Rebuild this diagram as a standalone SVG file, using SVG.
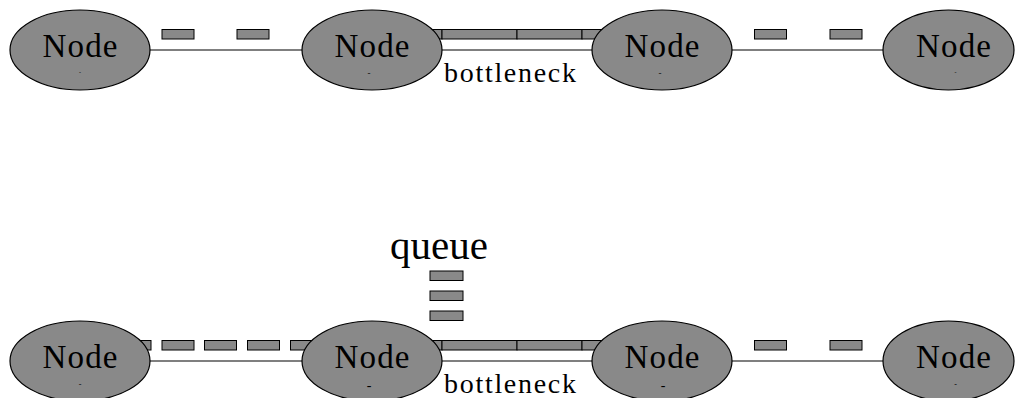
<svg xmlns="http://www.w3.org/2000/svg" width="1015" height="398" viewBox="0 0 1015 398">
<style>
.node{fill:#898989;stroke:#000;stroke-width:1.2}
.pkt{fill:#898989;stroke:#000;stroke-width:1}
.link{stroke:#000;stroke-width:1.2;fill:none}
.lbl{font-family:"Liberation Serif","Times New Roman",serif;font-size:33px;fill:#000;text-anchor:middle}
.sub{font-family:"Liberation Serif","Times New Roman",serif;fill:#000;text-anchor:middle}
.txt{font-family:"Liberation Serif","Times New Roman",serif;fill:#000;text-anchor:middle}
</style>
<rect width="1015" height="398" fill="#fff"/>
<g id="connectors">
  <line class="link" x1="150" y1="50" x2="302" y2="50"/>
  <line class="link" x1="442" y1="50" x2="592" y2="50"/>
  <line class="link" x1="732" y1="50" x2="883" y2="50"/>
  <line class="link" x1="150" y1="361" x2="302" y2="361"/>
  <line class="link" x1="442" y1="361" x2="592" y2="361"/>
  <line class="link" x1="732" y1="361" x2="883" y2="361"/>
</g>
<g id="packets">
  <rect class="pkt" x="162" y="29.5" width="32" height="9.5"/>
  <rect class="pkt" x="237" y="29.5" width="32" height="9.5"/>
  <rect class="pkt" x="754.5" y="29.5" width="32" height="9.5"/>
  <rect class="pkt" x="830" y="29.5" width="32" height="9.5"/>
  <rect class="pkt" x="367" y="29.5" width="75" height="9.5"/>
  <rect class="pkt" x="442" y="29.5" width="75" height="9.5"/>
  <rect class="pkt" x="517" y="29.5" width="65" height="9.5"/>
  <rect class="pkt" x="582" y="29.5" width="75" height="9.5"/>
  <rect class="pkt" x="119" y="340.5" width="32" height="9.5"/>
  <rect class="pkt" x="162" y="340.5" width="32" height="9.5"/>
  <rect class="pkt" x="204.5" y="340.5" width="32" height="9.5"/>
  <rect class="pkt" x="247.5" y="340.5" width="32" height="9.5"/>
  <rect class="pkt" x="290.5" y="340.5" width="32" height="9.5"/>
  <rect class="pkt" x="754.5" y="340.5" width="32" height="9.5"/>
  <rect class="pkt" x="830" y="340.5" width="32" height="9.5"/>
  <rect class="pkt" x="367" y="340.5" width="75" height="9.5"/>
  <rect class="pkt" x="442" y="340.5" width="75" height="9.5"/>
  <rect class="pkt" x="517" y="340.5" width="65" height="9.5"/>
  <rect class="pkt" x="582" y="340.5" width="75" height="9.5"/>
</g>
<g id="queue">
  <rect class="pkt" x="430" y="271" width="33" height="9.5"/>
  <rect class="pkt" x="430" y="291" width="33" height="9.5"/>
  <rect class="pkt" x="430" y="311" width="33" height="9.5"/>
  <text class="txt" x="439" y="259" font-size="41">queue</text>
</g>
<g id="n1a"><ellipse class="node" cx="80" cy="50" rx="70" ry="40"/><text class="lbl" x="80" y="57" textLength="75" lengthAdjust="spacing">Node</text><text class="sub" x="80" y="74" font-size="6">-</text></g>
<g id="n2a"><ellipse class="node" cx="372" cy="50" rx="70" ry="40"/><text class="lbl" x="372" y="57" textLength="75" lengthAdjust="spacing">Node</text><text class="sub" x="369" y="76" font-size="9">-</text></g>
<g id="n3a"><ellipse class="node" cx="662" cy="50" rx="70" ry="40"/><text class="lbl" x="662" y="57" textLength="75" lengthAdjust="spacing">Node</text><text class="sub" x="660" y="76" font-size="9">-</text></g>
<g id="n4a"><ellipse class="node" cx="948.5" cy="50" rx="65.5" ry="40"/><text class="lbl" x="953.5" y="57" textLength="75" lengthAdjust="spacing">Node</text><text class="sub" x="955.5" y="74" font-size="6">-</text></g>
<g id="n1b"><ellipse class="node" cx="80" cy="361" rx="70" ry="40"/><text class="lbl" x="80" y="368" textLength="75" lengthAdjust="spacing">Node</text><text class="sub" x="80" y="387" font-size="8">-</text></g>
<g id="n2b"><ellipse class="node" cx="372" cy="361" rx="70" ry="40"/><text class="lbl" x="372" y="368" textLength="75" lengthAdjust="spacing">Node</text><text class="sub" x="369" y="390" font-size="14">-</text></g>
<g id="n3b"><ellipse class="node" cx="662" cy="361" rx="70" ry="40"/><text class="lbl" x="662" y="368" textLength="75" lengthAdjust="spacing">Node</text><text class="sub" x="663" y="390" font-size="14">-</text></g>
<g id="n4b"><ellipse class="node" cx="948.5" cy="361" rx="65.5" ry="40"/><text class="lbl" x="953.5" y="368" textLength="75" lengthAdjust="spacing">Node</text><text class="sub" x="955.5" y="387" font-size="8">-</text></g>
<g id="labels">
  <text class="txt" x="510" y="82" font-size="28" textLength="132" lengthAdjust="spacing">bottleneck</text>
  <text class="txt" x="510" y="393" font-size="28" textLength="132" lengthAdjust="spacing">bottleneck</text>
</g>
</svg>
